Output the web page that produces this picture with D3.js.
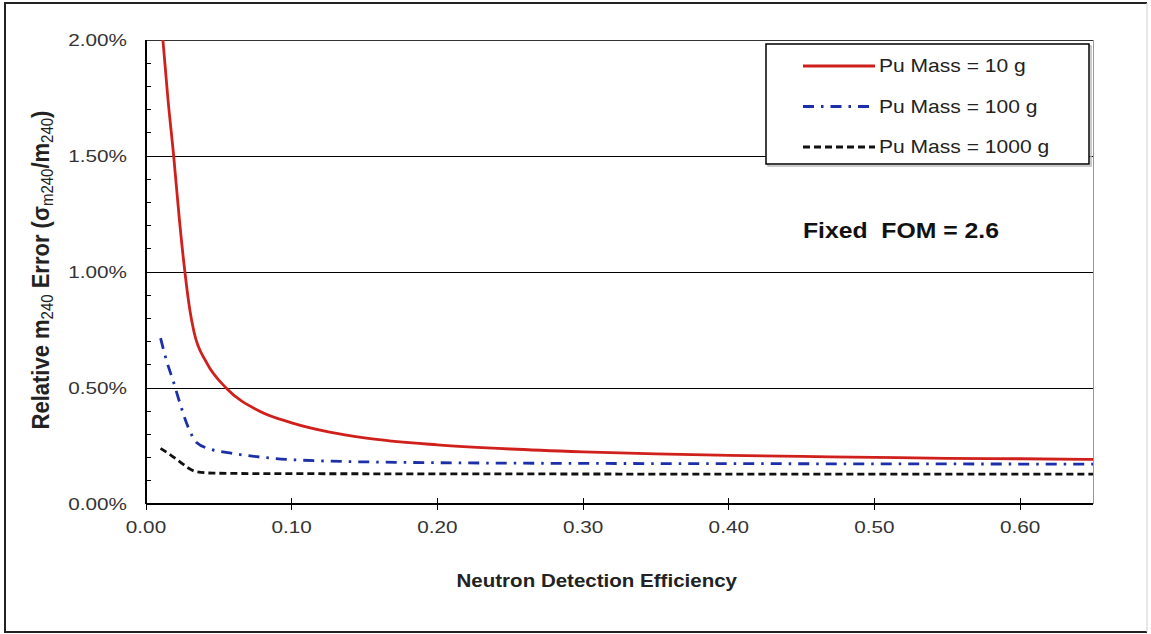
<!DOCTYPE html>
<html>
<head>
<meta charset="utf-8">
<script src="https://cdn.jsdelivr.net/npm/d3@7"></script>
<style>
  body { margin: 0; background: #fff; }
  text { font-family: "Liberation Sans", Arial, sans-serif; }
  line.crisp { shape-rendering: crispEdges; }
</style>
</head>
<body>
<div id="chart"></div>
<script>
// efficiency (x) and relative error in % (y)
var mass10 = [
  [0.0116, 2.00], [0.015, 1.75], [0.019, 1.50], [0.023, 1.22], [0.0267, 1.00],
  [0.030, 0.84], [0.033, 0.74], [0.0415, 0.61], [0.055, 0.50], [0.078, 0.40],
  [0.10, 0.35], [0.126, 0.31], [0.15, 0.285], [0.20, 0.255], [0.25, 0.237],
  [0.30, 0.225], [0.35, 0.216], [0.40, 0.21], [0.45, 0.205], [0.50, 0.201],
  [0.55, 0.197], [0.60, 0.195], [0.65, 0.192]
];
var mass100 = [
  [0.010, 0.715], [0.014, 0.62], [0.0187, 0.53], [0.024, 0.42], [0.029, 0.33],
  [0.0347, 0.265], [0.045, 0.235], [0.0575, 0.22], [0.085, 0.198], [0.119, 0.186],
  [0.20, 0.178], [0.30, 0.175], [0.40, 0.174], [0.50, 0.173], [0.65, 0.172]
];
var mass1000 = [
  [0.010, 0.24], [0.016, 0.215], [0.0233, 0.182], [0.029, 0.155], [0.0347, 0.139],
  [0.046, 0.133], [0.08, 0.131], [0.20, 0.130], [0.40, 0.129], [0.65, 0.129]
];
var seriesNames = ["Pu Mass = 10 g", "Pu Mass = 100 g", "Pu Mass = 1000 g"];
var xTicks = [0, 0.1, 0.2, 0.3, 0.4, 0.5, 0.6];
var yTicks = [0, 0.5, 1.0, 1.5, 2.0];

var W = 1151, H = 634;
var margin = { top: 40, left: 146, right: 58, bottom: 130 },
  width = W - margin.left - margin.right,
  height = H - margin.top - margin.bottom;
var sx = 1.22; // the picture's text is stretched sideways

var svgRoot = d3.select("#chart").append("svg")
  .attr("width", W).attr("height", H);

// outer frame
svgRoot.append("line").attr("x1", 5).attr("y1", 3).attr("x2", 5).attr("y2", 632)
  .attr("stroke", "#222").attr("stroke-width", 2);
svgRoot.append("line").attr("x1", 4).attr("y1", 3).attr("x2", 1147).attr("y2", 3)
  .attr("stroke", "#222").attr("stroke-width", 2);
svgRoot.append("line").attr("x1", 4).attr("y1", 632).attr("x2", 1147).attr("y2", 632)
  .attr("stroke", "#222").attr("stroke-width", 2);
svgRoot.append("line").attr("x1", 1147).attr("y1", 3).attr("x2", 1147).attr("y2", 632)
  .attr("stroke", "#d0d0d0").attr("stroke-width", 1);

var svg = svgRoot.append("g")
  .attr("transform", "translate(" + margin.left + "," + margin.top + ")");

var x = d3.scaleLinear().domain([0, 0.65]).range([0, width]);
var y = d3.scaleLinear().domain([0, 2.0]).range([height, 0]);

svg.append("clipPath").attr("id", "clip")
  .append("rect").attr("width", width).attr("height", height);

// gridlines
svg.selectAll(".grid")
  .data(yTicks.filter(function(d) { return d > 0 && d < 2; }))
  .enter().append("line")
  .attr("class", "crisp")
  .attr("x1", 0).attr("x2", width)
  .attr("y1", function(d) { return y(d); })
  .attr("y2", function(d) { return y(d); })
  .attr("stroke", "#000").attr("stroke-width", 1);

// plot frame top / right
svg.append("line").attr("class", "crisp").attr("x1", 0).attr("x2", width).attr("y1", 0).attr("y2", 0)
  .attr("stroke", "#333").attr("stroke-width", 1);
svg.append("line").attr("class", "crisp").attr("x1", width).attr("x2", width).attr("y1", 0).attr("y2", height)
  .attr("stroke", "#999").attr("stroke-width", 1);

// y axis: minor ticks inward, labels
var minorY = d3.range(1, 20).map(function(i) { return i / 10; });
svg.selectAll(".ymin").data(minorY).enter().append("line")
  .attr("class", "crisp")
  .attr("x1", 0).attr("x2", 5)
  .attr("y1", function(d) { return y(d); }).attr("y2", function(d) { return y(d); })
  .attr("stroke", "#000").attr("stroke-width", 1);
svg.append("line").attr("class", "crisp").attr("x1", 0).attr("x2", 0).attr("y1", 0).attr("y2", height)
  .attr("stroke", "#000").attr("stroke-width", 1.5);

svg.selectAll(".ylab").data(yTicks).enter().append("text")
  .attr("transform", function(d) { return "translate(-19," + (y(d) + 6) + ") scale(" + sx + ",1)"; })
  .attr("text-anchor", "end")
  .attr("font-size", 17)
  .attr("fill", "#333")
  .text(function(d) { return d.toFixed(2) + "%"; });

// x axis
svg.append("line").attr("class", "crisp").attr("x1", 0).attr("x2", width).attr("y1", height).attr("y2", height)
  .attr("stroke", "#000").attr("stroke-width", 1.5);
svg.selectAll(".xt").data(xTicks).enter().append("line")
  .attr("class", "crisp")
  .attr("x1", function(d) { return x(d); }).attr("x2", function(d) { return x(d); })
  .attr("y1", height - 6).attr("y2", height + 6)
  .attr("stroke", "#000").attr("stroke-width", 1);
svg.selectAll(".xlab").data(xTicks).enter().append("text")
  .attr("transform", function(d) { return "translate(" + x(d) + "," + (height + 29) + ") scale(" + sx + ",1)"; })
  .attr("text-anchor", "middle")
  .attr("font-size", 17)
  .attr("fill", "#333")
  .text(function(d) { return d.toFixed(2); });

// axis titles
svg.append("text")
  .attr("transform", "translate(" + (width * 0.476) + "," + (height + 83) + ") scale(1.11,1)")
  .attr("text-anchor", "middle")
  .attr("font-size", 18.5)
  .attr("font-weight", "bold")
  .attr("fill", "#222")
  .text("Neutron Detection Efficiency");

var yt = svg.append("text")
  .attr("transform", "translate(-97," + (height / 2 - 2) + ") scale(1.05,1) rotate(-90)")
  .attr("text-anchor", "middle")
  .attr("font-size", 22)
  .attr("font-weight", "bold")
  .attr("fill", "#222");
yt.append("tspan").text("Relative m");
yt.append("tspan").attr("font-size", 15).attr("font-weight", "normal").attr("dy", 4).text("240");
yt.append("tspan").attr("dy", -4).text(" Error (\u03c3");
yt.append("tspan").attr("font-size", 15).attr("font-weight", "normal").attr("dy", 4).text("m240");
yt.append("tspan").attr("dy", -4).text("/m");
yt.append("tspan").attr("font-size", 15).attr("font-weight", "normal").attr("dy", 4).text("240");
yt.append("tspan").attr("dy", -4).text(")");

// lines
var line = d3.line()
  .x(function(d) { return x(d[0]); })
  .y(function(d) { return y(d[1]); })
  .curve(d3.curveMonotoneX);

var styles = [
  { data: mass10, color: "#d0201c", dash: null, w: 2.8 },
  { data: mass100, color: "#1c2fa8", dash: "11,7,2.5,7", w: 2.8 },
  { data: mass1000, color: "#111", dash: "7,4", w: 2.8 }
];

var plot = svg.append("g").attr("clip-path", "url(#clip)");
plot.selectAll(".series").data(styles).enter().append("path")
  .attr("fill", "none")
  .attr("stroke", function(d) { return d.color; })
  .attr("stroke-width", function(d) { return d.w; })
  .attr("stroke-dasharray", function(d) { return d.dash; })
  .attr("d", function(d) { return line(d.data); });

// annotation
svg.append("text")
  .attr("transform", "translate(" + (803 - margin.left) + "," + (238 - margin.top) + ") scale(1.1,1)")
  .attr("font-family", "Lato, 'Open Sans', sans-serif")
  .attr("font-size", 22.5)
  .attr("font-weight", "bold")
  .attr("fill", "#111")
  .text("Fixed\u00a0\u00a0FOM = 2.6");

// legend
var lg = svgRoot.append("g").attr("transform", "translate(766,44)");
lg.append("rect").attr("x", 2).attr("y", 2).attr("width", 323).attr("height", 120)
  .attr("fill", "none").attr("stroke", "#bbb").attr("stroke-width", 1.5);
lg.append("rect").attr("width", 323).attr("height", 120)
  .attr("fill", "#fff").attr("stroke", "#000").attr("stroke-width", 1.5);
var rows = lg.selectAll(".row").data(styles).enter().append("g")
  .attr("transform", function(d, i) { return "translate(0," + (22 + i * 40.5) + ")"; });
rows.append("line")
  .attr("x1", 37).attr("x2", 109).attr("y1", 0).attr("y2", 0)
  .attr("stroke", function(d) { return d.color; })
  .attr("stroke-width", function(d) { return d.w; })
  .attr("stroke-dasharray", function(d) { return d.dash; });
rows.append("text")
  .attr("transform", "translate(113,6) scale(1.17,1)")
  .attr("font-size", 18)
  .attr("fill", "#222")
  .text(function(d, i) { return seriesNames[i]; });
</script>
</body>
</html>
